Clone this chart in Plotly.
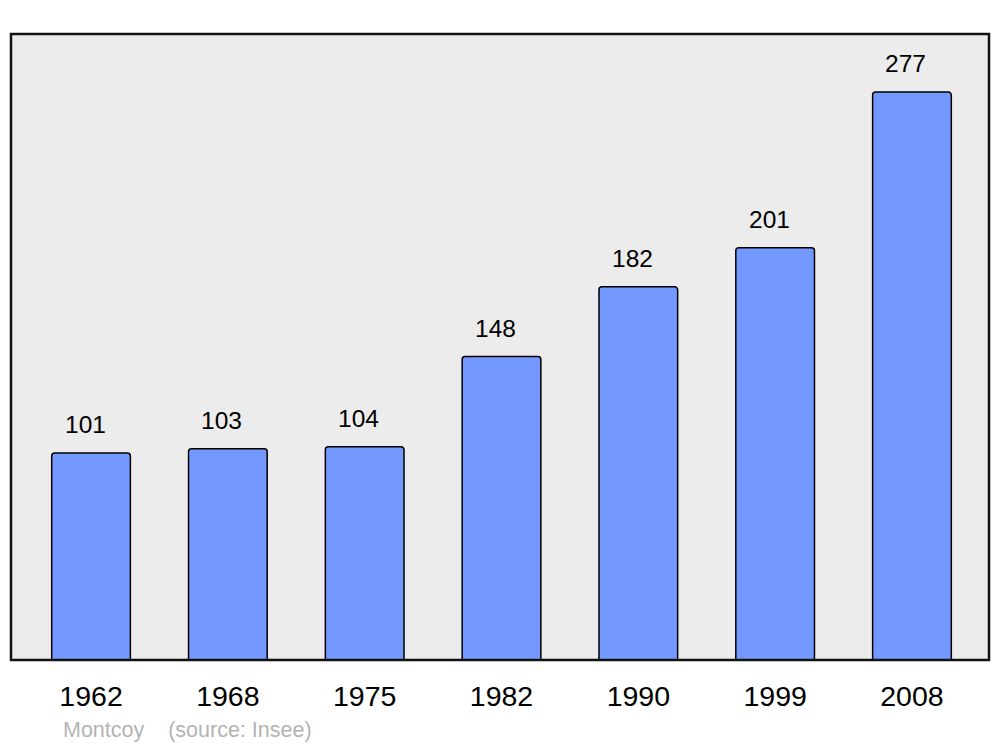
import plotly.graph_objects as go

years = ["1962", "1968", "1975", "1982", "1990", "1999", "2008"]
population = [101, 103, 104, 148, 182, 201, 277]
caption = "Montcoy\u00a0\u00a0\u00a0\u00a0(source: Insee)"

W, H = 1000, 747
L, R, T, B = 11, 11, 34, 87
ph = H - T - B

fig = go.Figure()
fig.add_trace(go.Bar(
    x=years, y=population, width=0.575,
    marker=dict(color="#7399FF", line=dict(color="#000000", width=1.5), cornerradius=3),
    hoverinfo="x+y",
))

for i, v in enumerate(population):
    fig.add_annotation(x=i, y=v, text=str(v), showarrow=False, xanchor="center",
                       yanchor="bottom", yshift=13, xshift=-6,
                       font=dict(family="Liberation Sans, Arial, sans-serif", size=24.5, color="#000"))

fig.add_annotation(xref="paper", yref="paper", x=(61 - L) / (W - L - R), y=(H - B - 730) / ph,
                   xanchor="left", yanchor="middle", text=caption, showarrow=False,
                   font=dict(family="Liberation Sans, Arial, sans-serif", size=21.5, color="#b3b3b3"))

fig.add_shape(type="rect", xref="paper", yref="paper", x0=0, x1=1, y0=0, y1=1,
              line=dict(color="#111111", width=2.5), fillcolor="rgba(0,0,0,0)", layer="above")

fig.update_layout(
    width=W, height=H,
    margin=dict(l=L, r=R, t=T, b=B),
    paper_bgcolor="#ffffff", plot_bgcolor="#ececec",
    showlegend=False, bargap=0.4,
    font=dict(family="Liberation Sans, Arial, sans-serif", color="#000"),
    xaxis=dict(type="category", range=[-0.585, 6.563], showgrid=False, zeroline=False,
               showline=False, ticks="", tickfont=dict(size=28.5, color="#000"),
               ticklabelstandoff=16, fixedrange=True),
    yaxis=dict(range=[0, 305.3], showgrid=False, zeroline=False, showline=False,
               showticklabels=False, ticks="", fixedrange=True),
)

fig.write_html("out.html", config={"displayModeBar": False},
               post_script="document.body.style.margin='0';document.body.style.overflow='hidden';")
